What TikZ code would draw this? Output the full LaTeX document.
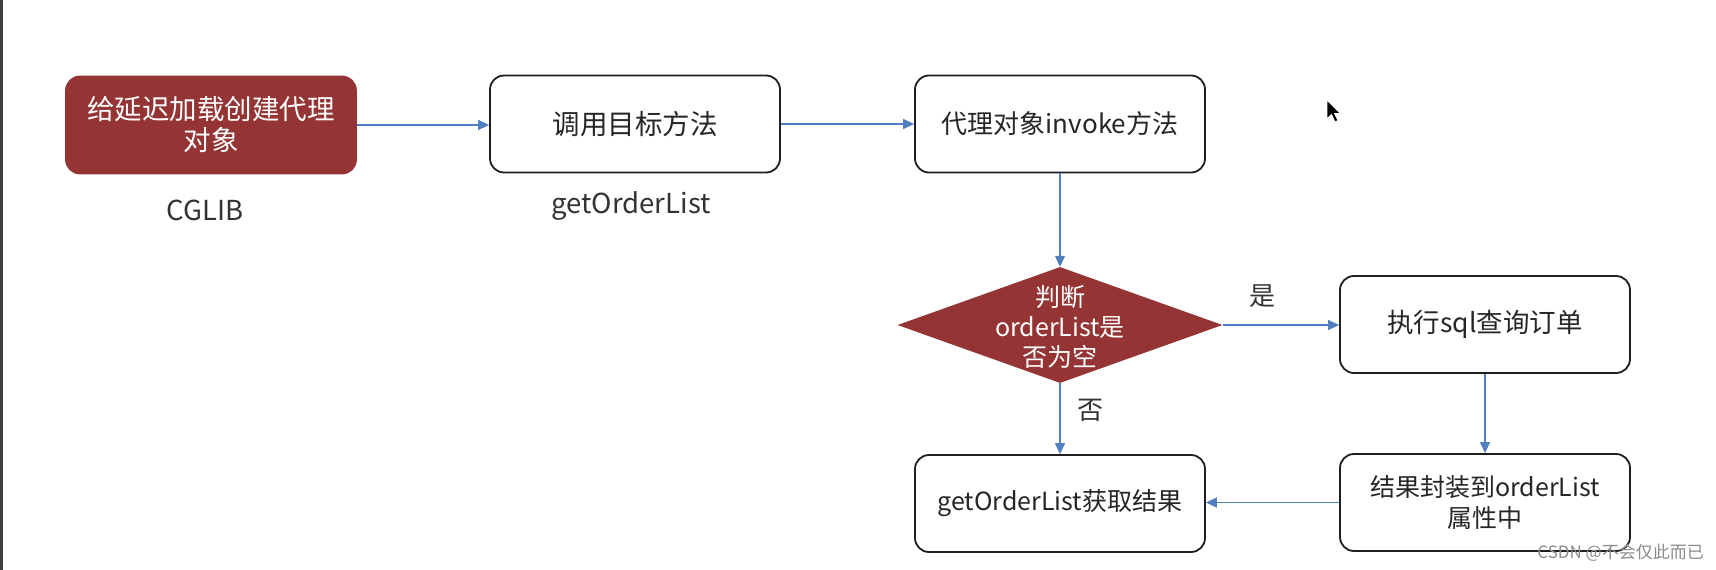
\documentclass[tikz,border=0pt]{standalone}
\usepackage{fontspec}
\setmainfont{Noto Sans CJK SC}
\usetikzlibrary{arrows.meta,shapes.geometric}
\definecolor{boxred}{HTML}{943434}
\definecolor{linkblue}{HTML}{4F7FBF}
\newcommand{\fsz}[1]{\fontsize{#1}{31}\selectfont}
\begin{document}
\begin{tikzpicture}[x=1pt,y=-1pt,
  box/.style={draw=black!88, line width=1.8pt, rounded corners=14pt, fill=white,
    minimum width=290pt, minimum height=97pt, align=center, inner sep=0pt,
    font=\fsz{25}, text=black!85},
  redbox/.style={box, draw=boxred, fill=boxred, text=white},
  dia/.style={diamond, fill=boxred, minimum width=325pt, minimum height=116pt, inner sep=0pt},
  lbl/.style={font=\fsz{25}, text=black!80, inner sep=0pt},
  link/.style={draw=linkblue, line width=1.3pt, -{Triangle[length=11pt,width=10pt]}}
]
\useasboundingbox (0,0) rectangle (1716,570);
\fill[white] (0,0) rectangle (1716,570);
\fill[black!75] (0,0) rectangle (3,570);

\node[redbox, font=\fsz{27.5}] (b1) at (211,125) {给延迟加载创建代理\\对象};
\node[box, font=\fsz{27.5}] (b2) at (635,124) {调用目标方法};
\node[box, font=\fsz{26}] (b3) at (1060,124) {代理对象invoke方法};
\node[dia] (d) at (1060,325) {};
\node[align=center, text=white, font=\fontsize{25}{30}\selectfont, inner sep=0pt] (dt) at (1060,327) {判断\\orderList是\\否为空};
\node[box, font=\fsz{26.5}] (b4) at (1485,324.5) {执行sql查询订单};
\node[box] (b5) at (1060,503.5) {getOrderList获取结果};
\node[box] (b6) at (1485,502.5) {结果封装到orderList\\属性中};

\node[lbl, font=\fsz{27.5}] (l1) at (205,210) {CGLIB};
\node[lbl, font=\fsz{27.5}] (l2) at (631,206) {getOrderList};
\node[lbl, font=\fsz{26}] (yes) at (1262,296) {是};
\node[lbl, font=\fsz{26}] (no) at (1090,410) {否};

\draw[link] (b1.east) -- (b1.east -| b2.west);
\draw[link] (b2.east) -- (b2.east -| b3.west);
\draw[link] (b3.south) -- (d.north);
\draw[link] (d.east) -- (d.east -| b4.west);
\draw[link] (d.south) -- (b5.north);
\draw[link] (b4.south) -- (b6.north);
\draw[link] (b6.west) -- (b6.west -| b5.east);

\node[anchor=east, text=black!45, font=\fontsize{17}{20}\selectfont, inner sep=0pt] (wm) at (1704,553) {CSDN @不会仅此而已};

\filldraw[fill=black, draw=white, line width=0.8pt]
  (1327,100) -- (1327,119) -- (1331.5,114.5) -- (1335,122) -- (1338,120.5) -- (1334.5,113.5) -- (1340.5,113.5) -- cycle;
\end{tikzpicture}
\end{document}
